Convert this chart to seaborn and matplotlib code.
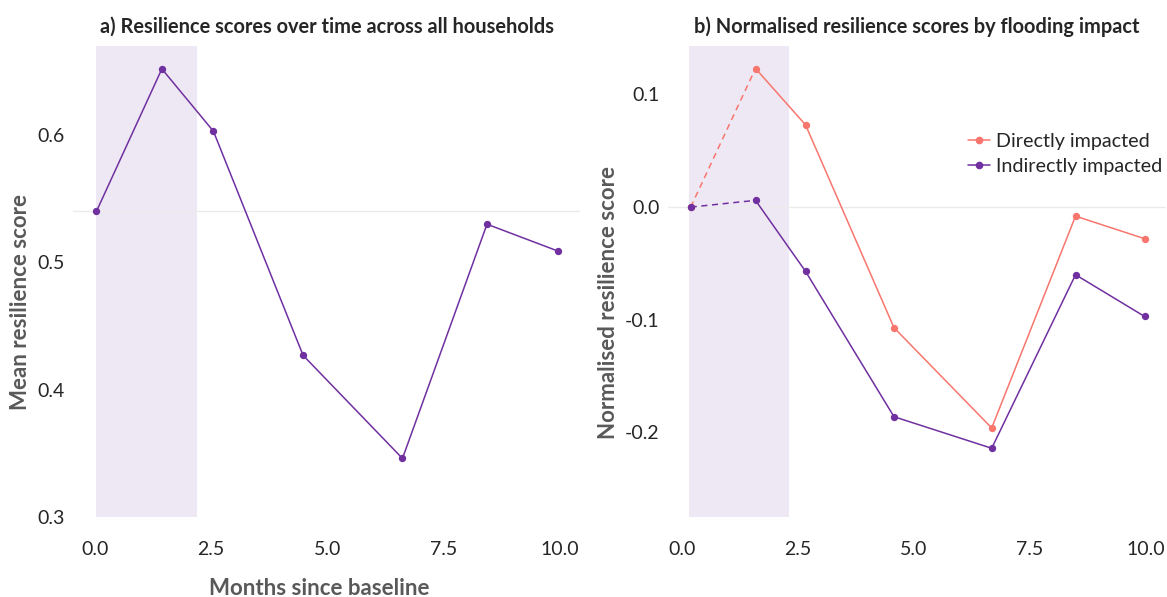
import matplotlib
matplotlib.use('Agg')
import matplotlib.pyplot as plt
import seaborn as sns
import pandas as pd
from matplotlib.lines import Line2D

# Panel a: mean resilience over time, all households
months_all = [0.03, 1.44, 2.55, 4.48, 6.62, 8.44, 9.96]
mean_score = [0.540, 0.652, 0.603, 0.427, 0.346, 0.530, 0.509]

# Panel b: normalised scores by flooding impact
months_grp = [0.18, 1.58, 2.66, 4.57, 6.68, 8.49, 9.98]
direct = [0.0, 0.123, 0.073, -0.107, -0.196, -0.008, -0.028]
indirect = [0.0, 0.006, -0.057, -0.186, -0.214, -0.060, -0.097]
groups = ['Directly impacted', 'Indirectly impacted']

# flooding period (shaded)
flood_a = (0.03, 2.2)
flood_b = (0.15, 2.31)

PURPLE = '#7030A0'
SALMON = '#F8766D'
SHADE = '#EEE8F4'
GREY_TXT = '#595959'

sns.set_style('white')
plt.rcParams['font.family'] = ['Lato', 'DejaVu Sans']
plt.rcParams['axes.unicode_minus'] = False

fig = plt.figure(figsize=(11.67, 5.97), dpi=100)
ax1 = fig.add_axes([0.0623, 0.134, 0.435, 0.789])
ax2 = fig.add_axes([0.5724, 0.134, 0.4270, 0.789])

df_a = pd.DataFrame({'month': months_all, 'score': mean_score})

# ---- panel a ----
ax1.axvspan(*flood_a, color=SHADE, lw=0, zorder=0)
ax1.axhline(mean_score[0], color='#EBEBEB', lw=1, zorder=1)
sns.lineplot(data=df_a, x='month', y='score', color=PURPLE, lw=1.1, ax=ax1, zorder=3)
sns.scatterplot(data=df_a, x='month', y='score', color=PURPLE, s=28, linewidth=0, ax=ax1, zorder=4)
ax1.set_xlim(-0.48, 10.45)
ax1.set_ylim(0.300, 0.670)
ax1.set_yticks([0.3, 0.4, 0.5, 0.6])
ax1.set_yticklabels(['0.3', '0.4', '0.5', '0.6'])
ax1.set_ylabel('Mean resilience score', fontsize=16, fontweight='bold', color=GREY_TXT, va='center')
ax1.yaxis.set_label_coords(-0.102, 0.456)
ax1.set_xlabel('Months since baseline', fontsize=16, fontweight='bold', color=GREY_TXT, va='center')
ax1.xaxis.set_label_coords(0.485, -0.151)
ax1.set_title('a) Resilience scores over time across all households', fontsize=14.4,
              fontweight='bold', pad=9.4)

# ---- panel b ----
ax2.axvspan(*flood_b, color=SHADE, lw=0, zorder=0)
ax2.axhline(0, color='#EBEBEB', lw=1, zorder=1)
for vals, col in zip([direct, indirect], [SALMON, PURPLE]):
    d = pd.DataFrame({'month': months_grp, 'score': vals})
    sns.lineplot(data=d.iloc[:2], x='month', y='score', color=col, lw=1.1,
                 linestyle=(0, (4, 3)), ax=ax2, zorder=3)
    sns.lineplot(data=d.iloc[1:], x='month', y='score', color=col, lw=1.1, ax=ax2, zorder=3)
    sns.scatterplot(data=d, x='month', y='score', color=col, s=28, linewidth=0, ax=ax2, zorder=4)
ax2.set_xlim(-0.31, 10.45)
ax2.set_ylim(-0.275, 0.143)
ax2.set_yticks([-0.2, -0.1, 0.0, 0.1])
ax2.set_yticklabels(['-0.2', '-0.1', '0.0', '0.1'])
ax2.set_ylabel('Normalised resilience score', fontsize=16, fontweight='bold', color=GREY_TXT, va='center')
ax2.yaxis.set_label_coords(-0.120, 0.456)
ax2.set_xlabel('')
ax2.set_title('b) Normalised resilience scores by flooding impact', fontsize=14.4,
              fontweight='bold', pad=9.4)

handles = [Line2D([], [], color=c, lw=1.1, marker='o', markersize=5.5, markeredgewidth=0)
           for c in [SALMON, PURPLE]]
ax2.legend(handles, groups, loc='upper left', bbox_to_anchor=(0.587, 0.832), frameon=False,
           fontsize=14.2, handlelength=1.1, handletextpad=0.3, labelspacing=0.42,
           borderaxespad=0)

for ax in (ax1, ax2):
    ax.set_xticks([0, 2.5, 5, 7.5, 10])
    ax.set_xticklabels(['0.0', '2.5', '5.0', '7.5', '10.0'])
    ax.tick_params(axis='x', length=0, pad=17, labelsize=14)
    ax.tick_params(axis='y', length=0, pad=6, labelsize=14)
    sns.despine(ax=ax, left=True, bottom=True)
    ax.grid(False)

fig.savefig('out.png', dpi=100)
